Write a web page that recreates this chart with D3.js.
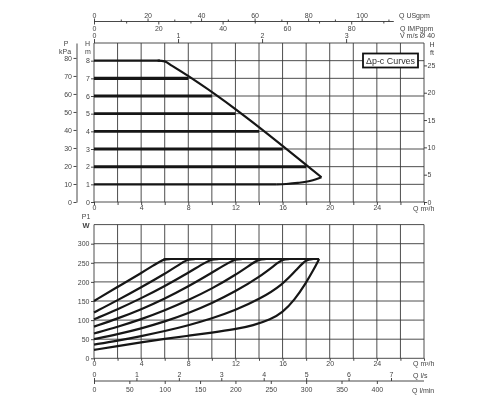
<!DOCTYPE html>
<html><head><meta charset="utf-8">
<script src="https://cdn.jsdelivr.net/npm/d3@7"></script>
<style>
html,body{margin:0;padding:0;background:#fff;}
svg{display:block;font-family:"Liberation Sans",Arial,sans-serif;will-change:transform;-webkit-font-smoothing:antialiased;}
text{-webkit-font-smoothing:antialiased;}
.ax text{font-size:7px;fill:#444;}
.ax path,.ax line{stroke:#333;stroke-width:0.9;}
</style></head>
<body><svg id="c" width="500" height="400"></svg>
<script>
// ---------- data ----------
const flowLabelTicks = [0,4,8,12,16,20,24];
const flowGridTicks = d3.range(0,29,2);
const headTicks = [0,1,2,3,4,5,6,7,8];
const kpaTicks = [0,10,20,30,40,50,60,70,80];
const ftTicks = [0,5,10,15,20,25];
const powerTicks = [0,50,100,150,200,250,300];
const powerGrid = [0,50,100,150,200,250,300,350];
const usgpmMajor = [0,20,40,60,80,100];
const usgpmMinor = [10,30,50,70,90,110];
const impMajor = [0,20,40,60,80];
const impMinor = [10,30,50,70,90];
const velTicks = [0,1,2,3];
const lsTicks = [0,1,2,3,4,5,6,7];
const lminTicks = [0,50,100,150,200,250,300,350,400];

// Δp-c head settings (m) and flow where each meets the max curve (m³/h)
const headLevels = [1,2,3,4,5,6,7,8];
const headEndQ   = [15.5,18,16,14,12,10,8,5.6];
const headWidths = [2.4,3,3.2,2.6,2.8,3.2,3.4,2.4];
// max curve (Q m³/h, H m)
const maxCurveUpper = [[5.4,8],[6.0,7.96],[6.6,7.72],[19.3,1.4]];
const maxCurveLower = [[15.5,1.0],[16.3,1.02],[17.3,1.08],[18.4,1.2],[19.3,1.4]];

// P1 power curves (Q m³/h, W)
const powerH1 = [[0,22],[2,32],[4,42],[6,51],[8,59],[10,67],[12,76],[13.5,86],[15,102],[16,120],[17,152],[18,198],[18.6,230],[19.1,260]];
const powerH2 = [[0,36],[2,46],[4,58],[6,71],[8,86],[10,104],[12,126],[14,154],[16,192],[17.3,236],[18,259],[18.6,260]];
const powerH3 = [[0,50],[2,63],[4,78],[6,96],[8,118],[10,144],[12,175],[14,212],[15.5,248],[16,259],[16.6,260]];
const powerH4 = [[0,65],[2,82],[4,102],[6,125],[8,152],[10,182],[12,218],[13.5,250],[14,259],[14.6,260]];
const powerH5 = [[0,83],[2,104],[4,128],[6,156],[8,188],[10,224],[11.5,252],[12,259],[12.6,260]];
const powerH6 = [[0,102],[2,128],[4,157],[6,189],[8,224],[9.5,252],[10,259],[10.6,260]];
const powerH7 = [[0,120],[2,152],[4,186],[6,221],[7.5,251],[8,259],[8.6,260]];
const powerH8 = [[0,150],[2,187],[4,223],[5.4,250],[5.9,259],[6.5,260]];
const powerCap = [[5.9,260],[19.1,260]];

// ---------- scales ----------
const svg = d3.select("#c");
const x = d3.scaleLinear([0,28],[94,424]);
const yH = d3.scaleLinear([0,9],[202,43]);
const yKpa = d3.scaleLinear([0,9*9.81],[202,43]);
const yFt = d3.scaleLinear([0,29.1],[202,43]);
const yP = d3.scaleLinear([0,350],[358.3,224.6]);
const xUS = d3.scaleLinear([0,28*4.403],[94,424]);
const xIMP = d3.scaleLinear([0,28*3.666],[94,424]);
const xV = d3.scaleLinear([0,28/7.13],[94,424]);
const xLs = d3.scaleLinear([0,28/3.6],[94,424]);
const xLm = d3.scaleLinear([0,28/0.06],[94,424]);

const ink = "#161616", gridC = "#3a3a3a", txt = "#444";

function label(t, px, py, anchor, size, extra){
  const e = svg.append("text").attr("x",px).attr("y",py).attr("text-anchor",anchor||"start")
    .attr("font-size",size||7).attr("fill",txt).text(t);
  if (extra) extra(e);
  return e;
}

// ---------- grids ----------
function grid(ys, yScale, y0, y1){
  const g = svg.append("g");
  g.selectAll("line.v").data(flowGridTicks).join("line")
    .attr("x1",d=>x(d)).attr("x2",d=>x(d)).attr("y1",y0).attr("y2",y1)
    .attr("stroke",gridC).attr("stroke-width",0.9);
  g.selectAll("line.h").data(ys).join("line")
    .attr("x1",x(0)).attr("x2",x(28)).attr("y1",d=>yScale(d)).attr("y2",d=>yScale(d))
    .attr("stroke",gridC).attr("stroke-width",0.9);
}
grid(d3.range(0,10,1), yH, yH(9), yH(0));
grid(powerGrid, yP, yP(350), yP(0));

// ---------- axes helpers ----------
function styleAx(g){ g.attr("class","ax"); g.select(".domain").remove(); return g; }

// top chart bottom axis
svg.append("g").attr("transform",`translate(0,${yH(0)})`)
  .call(d3.axisBottom(x).tickValues(flowGridTicks).tickSize(3).tickPadding(0.5)
    .tickFormat(d=>flowLabelTicks.includes(d)?d:"")).call(styleAx);
label("Q m³/h",413,210.5);

// bottom chart bottom axis
svg.append("g").attr("transform",`translate(0,${yP(0)})`)
  .call(d3.axisBottom(x).tickValues(flowGridTicks).tickSize(2.5).tickPadding(0.5)
    .tickFormat(d=>flowLabelTicks.includes(d)?d:"")).call(styleAx);
label("Q m³/h",413,366);

// H m axis (left of frame)
svg.append("g").attr("transform",`translate(${x(0)},0)`)
  .call(d3.axisLeft(yH).tickValues(headTicks).tickSize(3).tickPadding(1)).call(styleAx);
label("H",87.5,46,"middle");
label("m",88,54,"middle");

// kPa axis
svg.append("g").attr("transform",`translate(76.5,0)`)
  .call(d3.axisLeft(yKpa).tickValues(kpaTicks).tickSize(3).tickPadding(1.5).tickSizeOuter(0))
  .attr("class","ax");
label("P",66,46,"middle");
label("kPa",65,54,"middle");

// ft axis (right)
svg.append("g").attr("transform",`translate(${x(28)},0)`)
  .call(d3.axisRight(yFt).tickValues(ftTicks).tickSize(3).tickPadding(0.5)).call(styleAx);
label("H",432,47,"middle");
label("ft",432,55,"middle");

// P1 W axis
svg.append("g").attr("transform",`translate(${x(0)},0)`)
  .call(d3.axisLeft(yP).tickValues(powerTicks).tickSize(3).tickPadding(1.5)).call(styleAx);
label("P1",86,219,"middle");
label("W",86,227.5,"middle",7.5,e=>e.attr("font-weight","bold"));

// USgpm / IMPgpm axis
const usY = 21.5;
svg.append("line").attr("x1",xUS(0)).attr("x2",xUS(112)).attr("y1",usY).attr("y2",usY)
  .attr("stroke","#333").attr("stroke-width",0.9);
svg.append("g").attr("transform",`translate(0,${usY})`)
  .call(d3.axisTop(xUS).tickValues(usgpmMajor).tickSize(3).tickPadding(1)).call(styleAx);
svg.append("g").attr("transform",`translate(0,${usY})`)
  .call(d3.axisTop(xUS).tickValues(usgpmMinor).tickSize(2).tickFormat("")).call(styleAx);
svg.append("g").attr("transform",`translate(0,${usY})`)
  .call(d3.axisBottom(xIMP).tickValues(impMajor).tickSize(3).tickPadding(1.3)).call(styleAx);
svg.append("g").attr("transform",`translate(0,${usY})`)
  .call(d3.axisBottom(xIMP).tickValues(impMinor).tickSize(2).tickFormat("")).call(styleAx);
label("Q USgpm",399,17.5);
label("Q IMPgpm",400,30.5);
label("V m/s Ø 40",400,37.5);

// velocity axis on frame top
svg.append("g").attr("transform",`translate(0,${yH(9)})`)
  .call(d3.axisTop(xV).tickValues(velTicks).tickSize(4).tickPadding(1.5).tickFormat(d3.format("d"))).call(styleAx);

// l/s and l/min axes
const lsY = 381;
svg.append("line").attr("x1",xLs(0)).attr("x2",x(28)).attr("y1",lsY).attr("y2",lsY)
  .attr("stroke","#333").attr("stroke-width",0.9);
svg.append("g").attr("transform",`translate(0,${lsY})`)
  .call(d3.axisTop(xLs).tickValues(lsTicks).tickSize(3).tickPadding(0.8)).call(styleAx);
svg.append("g").attr("transform",`translate(0,${lsY})`)
  .call(d3.axisBottom(xLm).tickValues(lminTicks).tickSize(3).tickPadding(3)).call(styleAx);
label("Q l/s",413,377.5);
label("Q l/min",412,392.5);

// ---------- top chart curves ----------
const lineH = d3.line().x(d=>x(d[0])).y(d=>yH(d[1])).curve(d3.curveMonotoneX);
svg.append("g").selectAll("line").data(headLevels).join("line")
  .attr("x1",x(0)).attr("x2",(d,i)=>x(headEndQ[i]))
  .attr("y1",d=>yH(d)).attr("y2",d=>yH(d))
  .attr("stroke",ink).attr("stroke-width",(d,i)=>headWidths[i]);
svg.append("path").attr("d",lineH(maxCurveUpper))
  .attr("fill","none").attr("stroke",ink).attr("stroke-width",2.2);
svg.append("path").attr("d",lineH(maxCurveLower))
  .attr("fill","none").attr("stroke",ink).attr("stroke-width",2.2);

// legend box
svg.append("rect").attr("x",363).attr("y",53.5).attr("width",55).attr("height",14)
  .attr("fill","#fff").attr("stroke","#111").attr("stroke-width",1.8);
svg.append("text").attr("x",390.5).attr("y",63.8).attr("text-anchor","middle")
  .attr("font-size",9.5).attr("fill","#333").attr("textLength",49).attr("lengthAdjust","spacingAndGlyphs")
  .text("Δp-c Curves");

// ---------- bottom chart curves ----------
const lineP = d3.line().x(d=>x(d[0])).y(d=>yP(d[1])).curve(d3.curveBasis);
const powerCurves = [powerH1,powerH2,powerH3,powerH4,powerH5,powerH6,powerH7,powerH8];
svg.append("g").selectAll("path").data(powerCurves).join("path")
  .attr("d",d=>lineP(d)).attr("fill","none").attr("stroke",ink).attr("stroke-width",2.2);
svg.append("path").attr("d",d3.line().x(d=>x(d[0])).y(d=>yP(d[1]))(powerCap))
  .attr("fill","none").attr("stroke",ink).attr("stroke-width",2.2);
</script></body></html>
